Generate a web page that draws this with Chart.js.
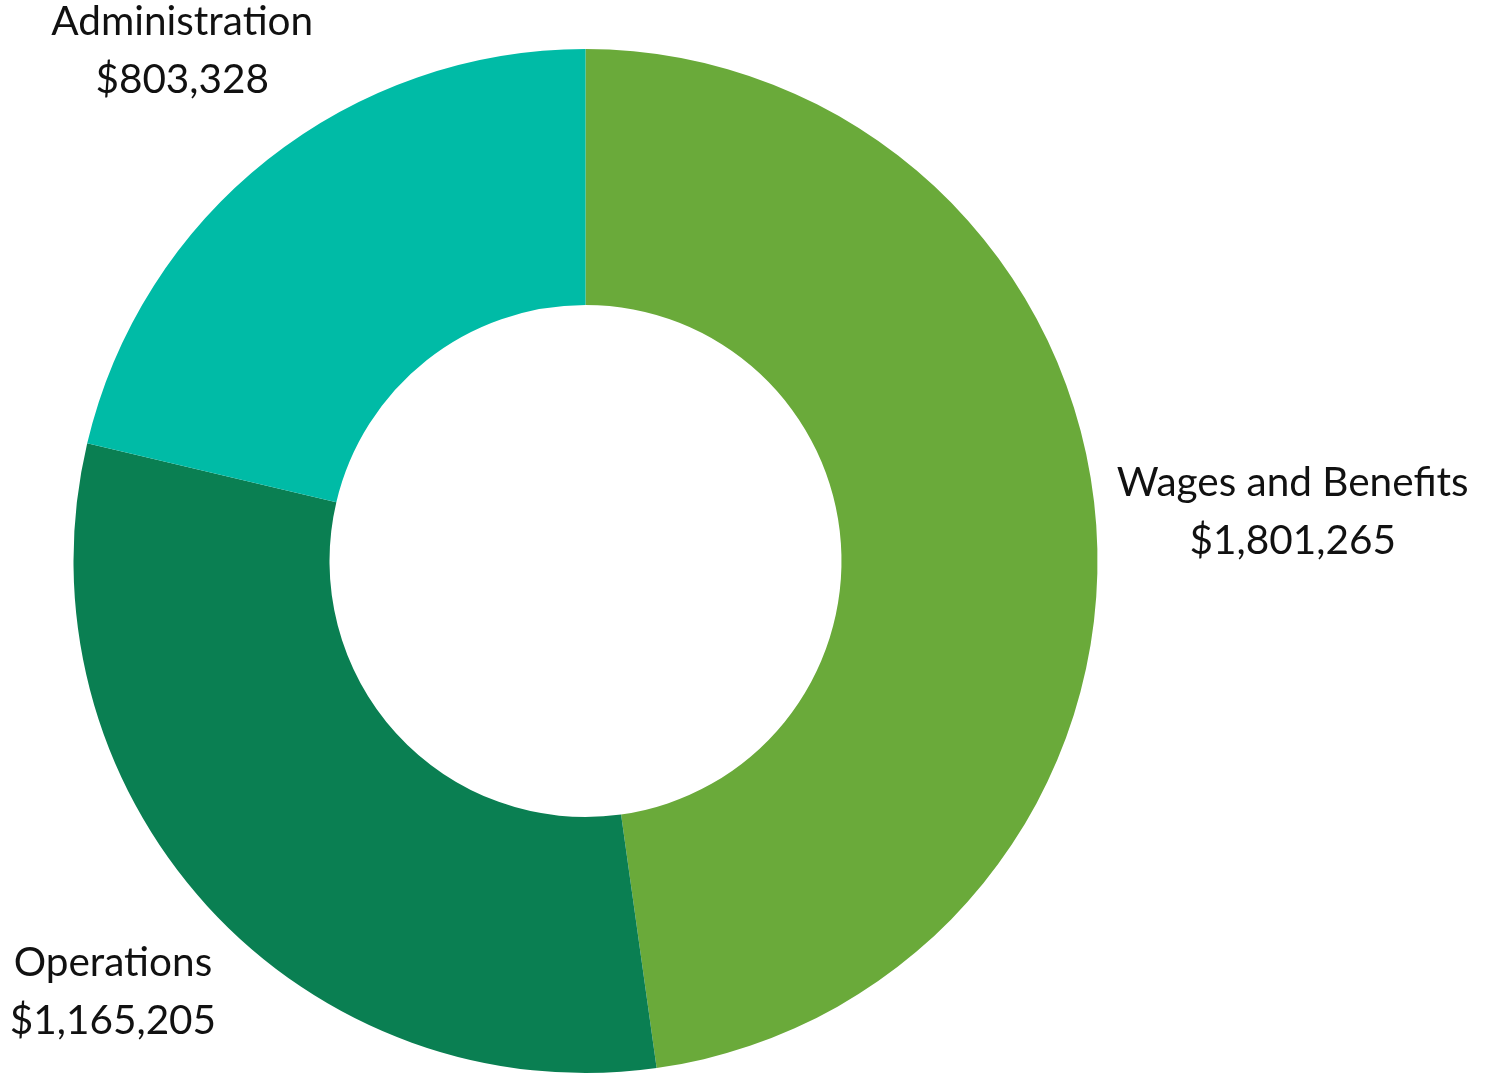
<!DOCTYPE html>
<html lang="en">
<head>
<meta charset="UTF-8">
<title>Budget Breakdown</title>
<style>
    html, body { margin: 0; padding: 0; background: #ffffff; }
    #wrap { width: 1493px; height: 1074px; position: relative; }
</style>
</head>
<body>
<div id="wrap"><canvas id="budgetChart"></canvas></div>
<script src="https://cdn.jsdelivr.net/npm/chart.js"></script>
<script>
const categories = ['Wages and Benefits', 'Operations', 'Administration'];
const amounts = [1801265, 1165205, 803328];
const sliceColors = ['#6aaa3a', '#0a7f52', '#00bba6'];

const fontFamily = 'Lato, "Open Sans", sans-serif';
const labelFontSize = 40.5;
const lineGap = 58;

function money(v) {
    return '$' + v.toLocaleString('en-US');
}

// draws "name / $value" outside each slice, along the slice's middle angle
const outsideLabels = {
    id: 'outsideLabels',
    afterDatasetsDraw(chart) {
        const ctx = chart.ctx;
        const meta = chart.getDatasetMeta(0);
        ctx.save();
        ctx.font = labelFontSize + 'px ' + fontFamily;
        ctx.fillStyle = '#111111';
        ctx.textAlign = 'center';
        ctx.textBaseline = 'middle';
        meta.data.forEach((arc, i) => {
            const p = arc.getProps(['x', 'y', 'startAngle', 'endAngle', 'outerRadius'], true);
            const mid = (p.startAngle + p.endAngle) / 2;
            const dx = Math.cos(mid), dy = Math.sin(mid);
            const l1 = categories[i], l2 = money(amounts[i]);
            const w = Math.max(ctx.measureText(l1).width, ctx.measureText(l2).width);
            const h = lineGap + labelFontSize;
            const dist = p.outerRadius + 18 + Math.abs(dx) * w / 2 + Math.abs(dy) * h / 2;
            const cx = p.x + dx * dist, cy = p.y + dy * dist;
            ctx.fillText(l1, cx, cy - lineGap / 2);
            ctx.fillText(l2, cx, cy + lineGap / 2);
        });
        ctx.restore();
    }
};

new Chart(document.getElementById('budgetChart'), {
    type: 'doughnut',
    data: {
        labels: categories,
        datasets: [{
            data: amounts,
            backgroundColor: sliceColors,
            borderWidth: 0
        }]
    },
    options: {
        responsive: true,
        maintainAspectRatio: false,
        animation: false,
        cutout: '50%',
        layout: { padding: { left: 73, right: 395, top: 49, bottom: 1 } },
        plugins: {
            legend: { display: false },
            tooltip: { enabled: false }
        }
    },
    plugins: [outsideLabels]
});
</script>
</body>
</html>
